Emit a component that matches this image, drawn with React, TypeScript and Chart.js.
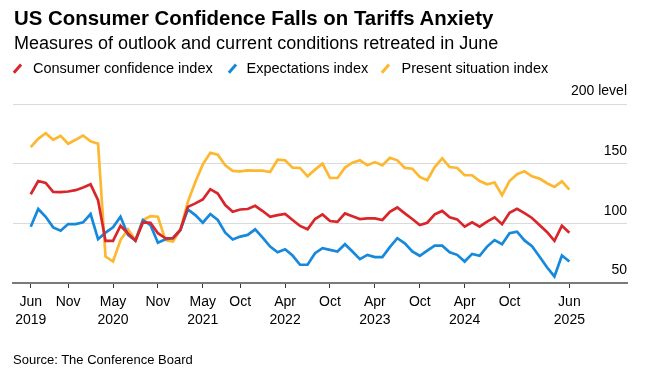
import React, { useEffect, useRef } from "react";
import { Chart, registerables } from "chart.js";

Chart.register(...registerables);

// Monthly categories Jun 2019 .. Jun 2025
const monthNames = ["Jan", "Feb", "Mar", "Apr", "May", "Jun", "Jul", "Aug", "Sep", "Oct", "Nov", "Dec"];
const months: string[] = [];
for (let y = 2019; y <= 2025; y++) {
  for (let m = 0; m < 12; m++) {
    if ((y === 2019 && m < 5) || (y === 2025 && m > 5)) continue;
    months.push(`${monthNames[m]} ${y}`);
  }
}

const consumerConfidence = [
  124.4, 135.5, 133.9, 126.4, 126.1, 126.7, 127.8, 130.0, 132.7, 119.4,
  85.3, 85.3, 98.0, 91.5, 85.5, 100.8, 100.5, 91.7, 87.5, 87.5,
  94.4, 113.8, 116.7, 120.0, 128.6, 125.0, 115.3, 109.7, 111.6, 112.0,
  114.7, 110.3, 105.5, 106.9, 107.8, 102.8, 97.8, 95.0, 103.6, 107.5,
  101.9, 101.2, 108.3, 106.0, 103.6, 104.2, 104.2, 102.8, 109.7, 113.3,
  108.3, 103.6, 98.6, 100.5, 107.5, 110.4, 105.0, 103.3, 97.2, 100.8,
  97.2, 101.4, 105.0, 99.2, 108.9, 112.2, 108.6, 104.5, 98.7, 92.8,
  85.3, 98.0, 92.2,
];

const expectations = [
  97.2, 112.0, 105.5, 96.6, 93.8, 99.4, 99.4, 100.8, 107.8, 86.7,
  92.2, 96.6, 105.5, 90.3, 85.5, 102.8, 98.6, 83.8, 86.7, 87.5,
  94.4, 111.6, 106.9, 100.5, 107.8, 102.8, 92.2, 86.5, 88.9, 90.3,
  95.0, 88.0, 80.5, 75.8, 78.3, 73.0, 65.3, 65.3, 75.0, 79.2,
  77.8, 76.4, 82.5, 76.4, 70.0, 73.6, 71.7, 71.7, 80.0, 87.5,
  83.3, 76.4, 72.8, 77.2, 81.4, 81.3, 75.8, 73.6, 68.0, 74.4,
  72.8, 80.5, 86.0, 82.5, 91.7, 93.0, 85.7, 80.8, 72.2, 63.2,
  55.5, 73.0, 68.0,
];

const presentSituation = [
  163.8, 170.8, 175.5, 170.0, 173.3, 166.7, 170.0, 173.6, 168.8, 166.7,
  72.2, 68.0, 86.0, 95.0, 86.0, 102.8, 106.0, 105.5, 86.0, 84.7,
  94.4, 118.0, 134.7, 149.4, 159.2, 157.5, 148.6, 144.0, 143.6, 144.4,
  144.2, 144.2, 143.0, 153.3, 152.8, 146.7, 146.4, 139.4, 145.0, 150.0,
  138.0, 138.0, 146.7, 150.8, 152.8, 148.6, 151.3, 148.6, 155.0, 152.8,
  146.4, 145.8, 138.9, 136.1, 147.2, 154.5, 147.2, 146.4, 140.3, 140.3,
  135.5, 132.7, 134.2, 123.6, 135.5, 141.1, 143.6, 139.4, 137.5, 133.6,
  130.5, 135.2, 128.3,
];

const xTickMonths = ["Jun 2019", "Nov 2019", "May 2020", "Nov 2020", "May 2021", "Oct 2021", "Apr 2022", "Oct 2022", "Apr 2023", "Oct 2023", "Apr 2024", "Oct 2024", "Jun 2025"];
const xTickLabels: string[][] = [
  ["Jun", "2019"], ["Nov"], ["May", "2020"], ["Nov"], ["May", "2021"], ["Oct"],
  ["Apr", "2022"], ["Oct"], ["Apr", "2023"], ["Oct"], ["Apr", "2024"], ["Oct"], ["Jun", "2025"],
];

const yTickValues = [50, 100, 150, 200];
const yTickLabels = ["50", "100", "150", "200 level"];

const seriesNames = ["Consumer confidence index", "Expectations index", "Present situation index"];
const RED = "#d8262b";
const BLUE = "#1689dc";
const YELLOW = "#fdb731";
const seriesColors = [RED, BLUE, YELLOW];

const FONT = "'Liberation Sans', Arial, Helvetica, sans-serif";

const yLabelPlugin = {
  id: "yLabels",
  afterDraw(chart: any) {
    const { ctx, chartArea, scales } = chart;
    ctx.save();
    ctx.font = `14px ${FONT}`;
    ctx.fillStyle = "#000";
    ctx.textAlign = "right";
    ctx.textBaseline = "middle";
    yTickValues.forEach((v, i) => {
      const y = scales.y.getPixelForValue(v);
      ctx.fillText(yTickLabels[i], chartArea.right, y - 12.5);
    });
    ctx.restore();
  },
};

export default function App() {
  const ref = useRef<HTMLCanvasElement | null>(null);

  useEffect(() => {
    if (!ref.current) return;
    const toPts = (arr: number[]) => arr.map((v, i) => ({ x: i, y: v }));
    const tickIdx = xTickMonths.map((m) => months.indexOf(m));
    const chart = new Chart(ref.current, {
      type: "line",
      data: {
        datasets: [
          { label: seriesNames[0], data: toPts(consumerConfidence), borderColor: RED, borderWidth: 2.7, pointRadius: 0, tension: 0 },
          { label: seriesNames[1], data: toPts(expectations), borderColor: BLUE, borderWidth: 2.7, pointRadius: 0, tension: 0 },
          { label: seriesNames[2], data: toPts(presentSituation), borderColor: YELLOW, borderWidth: 2.7, pointRadius: 0, tension: 0 },
        ],
      },
      options: {
        animation: false,
        responsive: false,
        maintainAspectRatio: false,
        layout: { padding: { left: 13, right: 23, top: 104, bottom: 0 } },
        plugins: { legend: { display: false }, tooltip: { enabled: false } },
        scales: {
          x: {
            type: "linear",
            min: -2.37,
            max: 79.7,
            afterBuildTicks: (s: any) => {
              s.ticks = tickIdx.map((v) => ({ value: v }));
            },
            afterFit: (s: any) => {
              s.height = 89;
            },
            ticks: {
              autoSkip: false,
              maxRotation: 0,
              minRotation: 0,
              padding: 5,
              color: "#000",
              font: { family: FONT, size: 14, lineHeight: 1.3 },
              callback: (v: any) => {
                const k = tickIdx.indexOf(Number(v));
                return k >= 0 ? xTickLabels[k] : "";
              },
            },
            grid: { drawOnChartArea: false, drawTicks: true, tickLength: 5, tickColor: "#333", tickWidth: 1 },
            border: { display: true, color: "#7a7a7a", width: 2 },
          },
          y: {
            min: 50,
            max: 200,
            afterBuildTicks: (s: any) => {
              s.ticks = yTickValues.map((v) => ({ value: v }));
            },
            afterFit: (s: any) => {
              s.width = 0;
            },
            ticks: { display: false },
            grid: {
              drawTicks: false,
              lineWidth: 1,
              color: (c: any) => (c.tick && c.tick.value === 50 ? "rgba(0,0,0,0)" : "#dadada"),
            },
            border: { display: false },
          },
        },
      },
      plugins: [yLabelPlugin],
    });
    return () => chart.destroy();
  }, []);

  const legendPos = [
    { icon: 14, text: 33 },
    { icon: 228.5, text: 246.5 },
    { icon: 382, text: 401.5 },
  ];

  return (
    <div style={{ position: "absolute", left: 0, top: 0, width: 650, height: 372, background: "#fff", fontFamily: FONT, color: "#000" }}>
      <canvas ref={ref} width={650} height={372} style={{ position: "absolute", left: 0, top: 0, width: 650, height: 372 }} />
      <div style={{ position: "absolute", left: 14, top: 8, fontSize: 20.4, fontWeight: 700, lineHeight: 1, whiteSpace: "nowrap" }}>
        US Consumer Confidence Falls on Tariffs Anxiety
      </div>
      <div style={{ position: "absolute", left: 14, top: 34, fontSize: 18, lineHeight: 1, whiteSpace: "nowrap" }}>
        Measures of outlook and current conditions retreated in June
      </div>
      {seriesNames.map((n, i) => (
        <React.Fragment key={n}>
          <div
            style={{
              position: "absolute",
              left: legendPos[i].icon + 2.1,
              top: 62.6,
              width: 2.7,
              height: 11,
              background: seriesColors[i],
              transform: "rotate(41deg)",
            }}
          />
          <div style={{ position: "absolute", left: legendPos[i].text, top: 61, fontSize: 14.5, lineHeight: 1, whiteSpace: "nowrap" }}>
            {n}
          </div>
        </React.Fragment>
      ))}
      <div style={{ position: "absolute", left: 13, top: 353, fontSize: 13, lineHeight: 1, whiteSpace: "nowrap" }}>
        Source: The Conference Board
      </div>
    </div>
  );
}
